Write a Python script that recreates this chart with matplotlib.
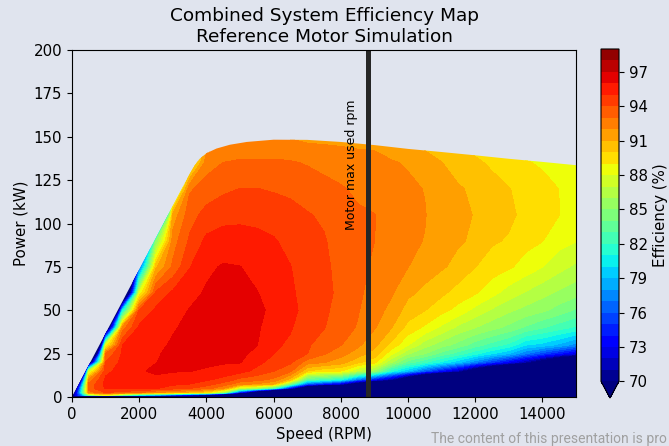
import matplotlib.pyplot as plt
import numpy as np
from matplotlib.patches import Polygon

# Grid
speed_rpm = list(range(0, 15001, 500))
power_kw = [0, 1, 2.5, 5, 7.5, 10, 15, 20, 25, 30, 40, 50, 60, 75, 90, 105, 120, 135, 150]

# Efficiency (%) for each speed column, power from 0 to 150 kW
eff_by_speed = [
    [30, 69, 66, 61, 54, 43, 0, 0, 0, 0, 0, 0, 0, 0, 0, 0, 0, 0, 0],
    [30, 83.5, 92.4, 93.5, 93.2, 92.3, 87, 65, 45, 15, 0, 0, 0, 0, 0, 0, 0, 0, 0],
    [30, 88, 94, 95.1, 95.3, 95.2, 94.7, 94, 93, 88.1, 62, 30, 10, 0, 0, 0, 0, 0, 0],
    [35, 82.9, 93.5, 95.2, 95.4, 95.5, 95.45, 95.3, 95.15, 95, 92.5, 80.1, 55, 35, 15, 0, 0, 0, 0],
    [40, 79.4, 93, 95.12, 95.3, 95.5, 95.9, 95.8, 95.7, 95.6, 95.2, 94.1, 88, 76, 60, 25, 5, 0, 0],
    [45, 77.5, 91.7, 95.06, 95.4, 95.8, 96.15, 95.98, 95.9, 95.75, 95.45, 95.2, 94.2, 90.8, 84.8, 60, 35, 15, 0],
    [50, 73.75, 91.4, 94.5, 95.2, 95.6, 96.07, 96.23, 96.24, 96.13, 95.9, 95.6, 95.2, 93.2, 92.5, 91.3, 85, 75, 65],
    [55, 70.5, 90.4, 94.02, 95.02, 95.37, 96.02, 96.17, 96.31, 96.45, 96.25, 96.05, 95.65, 94.95, 94.16, 93.59, 92.86, 88, 80],
    [55, 67.5, 89.2, 93.41, 94.5, 95.15, 95.92, 96.12, 96.24, 96.37, 96.43, 96.28, 96.13, 95.78, 95.22, 94.36, 93.41, 92.59, 91],
    [40, 58.75, 85, 92.17, 93.63, 94.67, 95.7, 96.08, 96.19, 96.31, 96.55, 96.39, 96.24, 96.1, 95.4, 94.69, 93.79, 93.02, 91.8],
    [20, 43.8, 72.9, 87, 92.38, 93.71, 95.42, 96.05, 96.17, 96.3, 96.55, 96.38, 96.21, 96.02, 95.37, 94.77, 94.02, 93.15, 92],
    [10, 30.7, 61.7, 85.67, 91.86, 93.37, 94.69, 95.33, 95.81, 96.03, 96.14, 96.15, 96.04, 95.69, 95.26, 94.72, 94.02, 93.15, 92.1],
    [5, 22.6, 48.9, 82.05, 91.05, 92.77, 94.04, 94.57, 95.03, 95.2, 95.52, 95.85, 95.66, 95.38, 95.09, 94.57, 93.9, 93.13, 92.2],
    [3, 17.6, 39.4, 72.4, 84.33, 90.5, 93.29, 94.16, 94.48, 94.81, 95.1, 95.25, 95.16, 95.03, 94.7, 94.3, 93.81, 93.1, 91.9],
    [0, 12.5, 31.25, 62.5, 76.05, 83.05, 90.05, 92.5, 94.02, 94.14, 94.42, 94.7, 94.62, 94.5, 94.29, 94.07, 93.58, 92.92, 91.7],
    [0, 11.1, 27.8, 55.6, 74, 82.2, 89.27, 92.05, 93.12, 93.52, 94.05, 94.17, 94.3, 94.19, 94.08, 93.86, 93.34, 92.69, 91.7],
    [0, 10, 25, 50, 71.9, 80.9, 89.05, 91.5, 92.38, 93.05, 93.4, 93.65, 93.75, 93.71, 93.59, 93.4, 93.1, 92.51, 91.7],
    [0, 8.9, 22.2, 44.3, 66.5, 76.67, 86.97, 90.24, 91.56, 92.21, 92.93, 93.08, 93.16, 93.24, 93.22, 93.13, 92.83, 92.33, 91.7],
    [0, 7.95, 19.9, 39.8, 59.7, 73.6, 85.5, 89.33, 90.6, 91.3, 92.09, 92.4, 92.7, 92.86, 93.01, 93.02, 92.67, 92.26, 91.7],
    [0, 7.1, 17.9, 35.7, 53.6, 70.55, 81.32, 86.05, 88.34, 89.71, 91.07, 91.73, 92.13, 92.44, 92.63, 92.64, 92.45, 92.08, 91.4],
    [0, 6.5, 16.2, 32.4, 48.6, 64.8, 79.05, 83.5, 86.13, 88.05, 89.67, 90.57, 91.21, 92.02, 92.18, 92.35, 92.16, 91.92, 91.3],
    [0, 5.83, 14.6, 29.2, 43.75, 58.3, 76.19, 82.17, 85.05, 86.43, 88.82, 90.04, 90.78, 91.42, 91.97, 92.04, 91.97, 91.35, 90.6],
    [0, 5.26, 13.2, 26.3, 39.5, 52.6, 73.7, 80.71, 83.62, 85.46, 87.77, 89.33, 90.21, 91.13, 91.5, 91.54, 91.36, 91.02, 90.4],
    [0, 4.83, 12.1, 24.1, 36.2, 48.3, 71.07, 79.23, 82.53, 84.59, 86.74, 88.64, 89.57, 90.69, 91.11, 91.23, 91.08, 90.66, 89.9],
    [0, 4.43, 11.1, 22.2, 33.2, 44.3, 66.5, 77.2, 81.33, 83.5, 86.02, 87.67, 89.12, 90.02, 90.85, 90.95, 90.85, 90.16, 89.5],
    [0, 4.12, 10.3, 20.6, 30.9, 41.2, 61.8, 75.1, 80.08, 82.58, 85.37, 86.86, 88.34, 89.51, 90.13, 90.52, 90.3, 89.86, 89.2],
    [0, 3.85, 9.6, 19.2, 28.8, 38.5, 57.7, 73.05, 79.05, 81.73, 84.71, 86.2, 87.53, 89.15, 89.9, 90.2, 90.05, 89.41, 88.8],
    [0, 3.59, 8.97, 17.9, 26.9, 35.9, 53.8, 70.79, 77.14, 80.06, 83.83, 85.67, 86.9, 88.6, 89.32, 89.75, 89.6, 89.05, 88.6],
    [0, 3.38, 8.45, 16.9, 25.4, 33.8, 50.7, 67.6, 75.44, 79.64, 83.08, 85.22, 86.33, 88.02, 89.03, 89.27, 89.2, 88.92, 88.6],
    [0, 3.18, 7.95, 15.9, 23.9, 31.8, 47.7, 63.6, 73.92, 78.74, 82.43, 84.57, 85.81, 87.34, 88.38, 89.01, 88.99, 88.79, 88.6],
    [0, 3.02, 7.5, 15.1, 22.6, 30.2, 45.3, 60.3, 72.35, 77.5, 81.82, 83.84, 85.38, 86.78, 88.06, 88.5, 88.85, 88.75, 88.5],
]

# Max power envelope of the motor
env_speed = [0, 3500, 3650, 3800, 4000, 4300, 4700, 5200, 6000, 7000, 8000,
             9000, 10000, 11000, 12000, 13000, 14000, 15000]
env_power = [0, 128.5, 133.5, 137.3, 140.5, 143.2, 145.4, 147.0, 148.3, 148.2,
             147.0, 145.2, 143.0, 141.2, 139.3, 137.3, 135.5, 133.6]

max_used_rpm = 8800

bg = "#e0e4ee"
eff = np.array(eff_by_speed).T

fig = plt.figure(figsize=(6.69, 4.46), dpi=100, facecolor=bg)
ax = fig.add_axes([72 / 669, 49 / 446, 504 / 669, 347 / 446], facecolor=bg)
cax = fig.add_axes([601 / 669, 48 / 446, 18 / 669, 349 / 446])

cs = ax.contourf(speed_rpm, power_kw, eff, levels=np.arange(70, 100, 1),
                 cmap="jet", extend="min")

# keep the map inside the envelope
verts = np.column_stack([env_speed + [15000], env_power + [0]])
env = Polygon(verts, closed=True, facecolor="none", edgecolor="none")
ax.add_patch(env)
cs.set_clip_path(env)

ax.plot([max_used_rpm, max_used_rpm], [2, 198], color="#262626", lw=3.6)
ax.text(max_used_rpm - 280, 96, "Motor max used rpm", rotation=90,
        ha="right", va="bottom", fontsize=9)

ax.set_xlim(0, 15000)
ax.set_ylim(0, 200)
ax.set_xticks(range(0, 15000, 2000))
ax.set_yticks(range(0, 201, 25))
ax.tick_params(labelsize=10.8)
ax.set_xlabel("Speed (RPM)", fontsize=10.8)
ax.set_ylabel("Power (kW)", fontsize=10.8)
ax.set_title("Combined System Efficiency Map\nReference Motor Simulation",
             fontsize=13.3)

cb = fig.colorbar(cs, cax=cax, ticks=range(70, 98, 3))
cb.ax.tick_params(labelsize=10.8)
cb.set_label("Efficiency (%)", fontsize=10.8)

fig.text(431 / 669, 0.0, "The content of this presentation is pro",
         color="#a0a0a0", fontsize=10, family="Roboto", va="bottom")

fig.savefig("out.png", dpi=100, facecolor=bg)
